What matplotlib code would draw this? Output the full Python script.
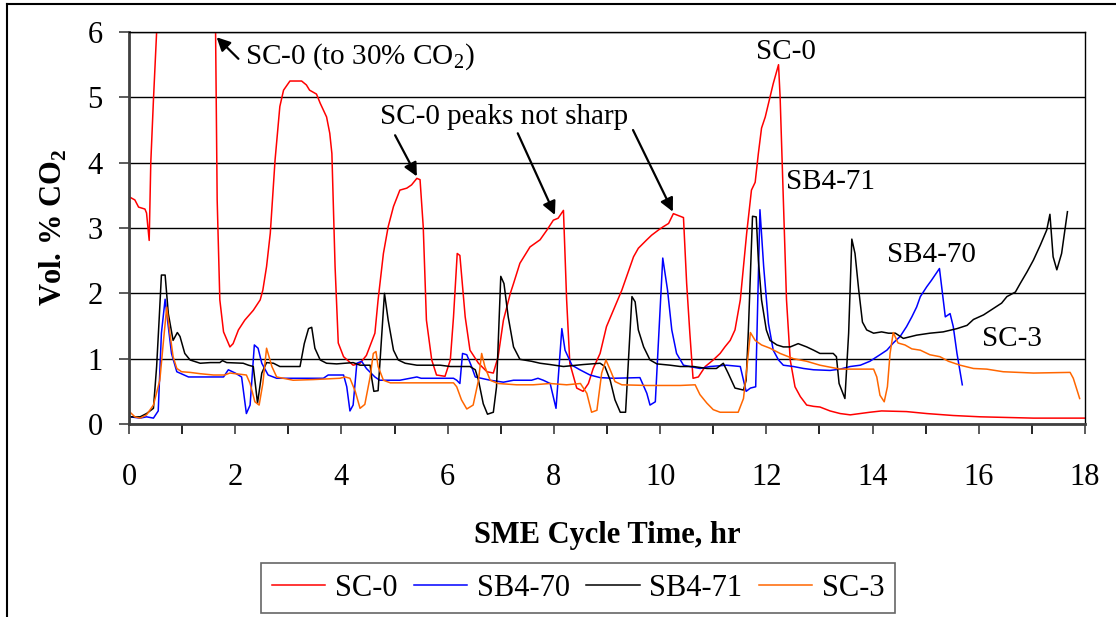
import matplotlib
matplotlib.use("Agg")
import matplotlib.pyplot as plt
from matplotlib.lines import Line2D

plt.rcParams['font.family'] = ['Liberation Serif', 'DejaVu Serif']
plt.rcParams['mathtext.fontset'] = 'custom'
plt.rcParams['mathtext.rm'] = 'Liberation Serif'

# SC-0 (red) - runs off the top to ~30 % between 0.5 and 1.6 hr
sc0_t = [0.02, 0.11, 0.18, 0.30, 0.33, 0.38, 0.41, 0.46, 0.52, 0.55, 1.58, 1.63,
         1.66, 1.71, 1.78, 1.90, 1.96, 2.06, 2.18, 2.34, 2.47, 2.52, 2.59, 2.66,
         2.75, 2.84, 2.91, 3.03, 3.25, 3.34, 3.40, 3.53, 3.60, 3.72, 3.78, 3.82,
         3.88, 3.94, 4.04, 4.22, 4.35, 4.47, 4.63, 4.69, 4.79, 4.88, 4.98, 5.10,
         5.23, 5.32, 5.42, 5.48, 5.54, 5.60, 5.70, 5.79, 5.95, 6.05, 6.11, 6.18,
         6.23, 6.33, 6.42, 6.58, 6.74, 6.86, 6.95, 7.05, 7.18, 7.24, 7.36, 7.55,
         7.74, 7.87, 7.99, 8.08, 8.18, 8.24, 8.30, 8.43, 8.55, 8.65, 8.74, 8.87,
         8.99, 9.12, 9.28, 9.37, 9.50, 9.59, 9.75, 9.84, 9.97, 10.06, 10.16, 10.25,
         10.44, 10.50, 10.56, 10.62, 10.72, 10.85, 11.00, 11.13, 11.22, 11.32,
         11.41, 11.51, 11.57, 11.63, 11.72, 11.79, 11.85, 11.91, 11.98, 12.07,
         12.13, 12.23, 12.26, 12.32, 12.38, 12.45, 12.54, 12.64, 12.76, 12.89,
         13.01, 13.20, 13.39, 13.58, 13.95, 14.17, 14.64, 15.02, 15.52, 16.03,
         17.03, 18.0]
sc0_v = [3.47, 3.43, 3.32, 3.29, 3.23, 2.81, 4.00, 4.96, 6.00, 30.0, 30.0, 6.0,
         3.43, 1.90, 1.41, 1.18, 1.23, 1.44, 1.59, 1.74, 1.90, 2.05, 2.41, 2.92,
         4.04, 4.86, 5.11, 5.25, 5.25, 5.19, 5.11, 5.05, 4.91, 4.70, 4.45, 4.14,
         2.41, 1.24, 1.03, 0.90, 0.93, 1.05, 1.39, 1.90, 2.61, 3.02, 3.33, 3.58,
         3.61, 3.66, 3.76, 3.74, 3.02, 1.59, 0.98, 0.75, 0.73, 0.98, 1.64, 2.61,
         2.58, 1.64, 1.13, 0.93, 0.80, 0.78, 1.03, 1.59, 2.00, 2.15, 2.46, 2.71,
         2.82, 2.97, 3.12, 3.15, 3.27, 1.90, 0.93, 0.55, 0.50, 0.62, 0.85, 1.08,
         1.49, 1.74, 2.05, 2.26, 2.56, 2.69, 2.82, 2.89, 2.97, 3.02, 3.07, 3.22,
         3.16, 2.15, 1.39, 0.70, 0.72, 0.88, 0.98, 1.08, 1.18, 1.28,
         1.44, 1.90, 2.41, 2.92, 3.58, 3.70, 4.14, 4.53, 4.70, 5.01,
         5.21, 5.50, 5.00, 3.43, 1.90, 0.98, 0.57, 0.42, 0.29, 0.27,
         0.26, 0.20, 0.16, 0.14, 0.18, 0.20, 0.19, 0.16, 0.13, 0.11,
         0.09, 0.09]

# SB4-70 (blue)
sb70_t = [0.02, 0.21, 0.33, 0.46, 0.55, 0.61, 0.68, 0.74, 0.80, 0.90, 1.12, 1.78,
          1.87, 2.00, 2.12, 2.21, 2.28, 2.36, 2.43, 2.50, 2.62, 2.78, 3.66, 3.75,
          4.04, 4.10, 4.16, 4.22, 4.29, 4.38, 4.47, 4.63, 4.72, 5.10, 5.42, 5.50,
          6.11, 6.17, 6.23, 6.28, 6.36, 6.45, 6.52, 6.80, 7.05, 7.24, 7.58, 7.70,
          7.80, 7.93, 8.04, 8.15, 8.21, 8.34, 8.49, 8.68, 8.87, 9.12, 9.62, 9.75,
          9.81, 9.91, 10.05, 10.14, 10.22, 10.31, 10.44, 10.56, 10.75, 10.94, 11.25,
          11.51, 11.57, 11.62, 11.70, 11.80, 11.88, 11.95, 12.04, 12.13, 12.23,
          12.32, 12.51, 12.70, 12.89, 13.20, 13.39, 13.58, 13.77, 13.95, 14.14,
          14.27, 14.39, 14.52, 14.64, 14.74, 14.83, 14.90, 15.02, 15.11, 15.26,
          15.37, 15.46, 15.52, 15.59, 15.69]
sb70_v = [0.11, 0.09, 0.11, 0.09, 0.20, 1.39, 1.91, 1.49, 1.08, 0.80, 0.72, 0.72,
          0.83, 0.78, 0.72, 0.16, 0.29, 1.21, 1.16, 0.93, 0.75, 0.70, 0.70, 0.75,
          0.75, 0.57, 0.20, 0.29, 0.93, 0.96, 0.85, 0.72, 0.67, 0.67, 0.72, 0.70,
          0.70, 0.67, 0.62, 1.08, 1.06, 0.88, 0.72, 0.67, 0.64, 0.67, 0.67, 0.70,
          0.67, 0.62, 0.24, 1.46, 1.13, 0.90, 0.83, 0.75, 0.71, 0.70, 0.71, 0.47,
          0.29, 0.34, 2.54, 2.05, 1.44, 1.08, 0.90, 0.88, 0.85, 0.88, 0.90,
          0.88, 0.67, 0.50, 0.55, 0.57, 3.28, 2.41, 1.54, 1.13, 0.98,
          0.90, 0.88, 0.85, 0.83, 0.82, 0.84, 0.88, 0.90, 0.96, 1.06,
          1.13, 1.24, 1.34, 1.49, 1.64, 1.79, 1.95, 2.10, 2.20, 2.38,
          1.64, 1.69, 1.49, 1.08, 0.60]

# SB4-71 (black)
sb71_t = [0.02, 0.21, 0.33, 0.46, 0.52, 0.57, 0.61, 0.68, 0.74, 0.83, 0.91, 0.96,
          1.05, 1.15, 1.34, 1.53, 1.71, 1.76, 1.84, 2.15, 2.25, 2.34, 2.42, 2.50,
          2.59, 2.72, 2.84, 3.22, 3.30, 3.38, 3.44, 3.50, 3.60, 3.72, 3.91, 4.22,
          4.35, 4.54, 4.57, 4.61, 4.69, 4.81, 4.88, 4.98, 5.07, 5.20, 5.42, 5.86,
          6.05, 6.42, 6.52, 6.58, 6.67, 6.75, 6.86, 6.92, 7.00, 7.06, 7.14, 7.24,
          7.36, 7.58, 7.74, 7.93, 8.18, 8.55, 8.87, 8.96, 9.06, 9.15, 9.25, 9.35,
          9.47, 9.53, 9.59, 9.69, 9.81, 9.94, 10.19, 10.38, 10.63, 10.88, 11.06,
          11.19, 11.28, 11.41, 11.57, 11.62, 11.66, 11.74, 11.81, 11.85, 11.91,
          12.00, 12.07, 12.20, 12.32, 12.45, 12.60, 12.76, 12.89, 13.01, 13.26,
          13.32, 13.37, 13.48, 13.55, 13.61, 13.67, 13.74, 13.81, 13.89, 14.02,
          14.17, 14.30, 14.43, 14.58, 14.83, 15.08, 15.33, 15.59, 15.78, 15.90,
          16.09, 16.28, 16.43, 16.53, 16.69, 16.78, 16.91, 17.03, 17.16, 17.28,
          17.34, 17.40, 17.47, 17.56, 17.67]
sb71_v = [0.11, 0.11, 0.16, 0.24, 0.88, 1.64, 2.28, 2.28, 1.69, 1.28, 1.40, 1.34,
          1.08, 0.98, 0.93, 0.94, 0.94, 0.97, 0.94, 0.93, 0.90, 0.88, 0.32, 0.78,
          0.94, 0.93, 0.88, 0.88, 1.23, 1.46, 1.48, 1.16, 0.98, 0.93, 0.92, 0.94,
          0.90, 0.90, 0.70, 0.50, 0.51, 2.00, 1.59, 1.13, 0.98, 0.93, 0.90, 0.90,
          0.88, 0.88, 0.83, 0.67, 0.31, 0.15, 0.18, 0.57, 2.26, 2.15, 1.64, 1.18,
          0.99, 0.96, 0.93, 0.91, 0.88, 0.91, 0.93, 0.88, 0.67, 0.37, 0.18, 0.18,
          1.95, 1.87, 1.44, 1.18, 0.98, 0.92, 0.90, 0.88, 0.88, 0.85, 0.85,
          0.93, 0.78, 0.55, 0.52, 0.67, 1.39, 3.18, 3.17, 2.51, 1.90,
          1.44, 1.28, 1.21, 1.18, 1.18, 1.23, 1.18, 1.13, 1.08, 1.08,
          1.03, 0.62, 0.39, 1.39, 2.83, 2.61, 2.05, 1.56, 1.44, 1.39,
          1.41, 1.39, 1.39, 1.31, 1.36, 1.39, 1.41, 1.46, 1.51, 1.60,
          1.67, 1.77, 1.85, 1.95, 2.02, 2.15, 2.33, 2.51, 2.74, 2.97,
          3.21, 2.56, 2.36, 2.61, 3.25]

# SC-3 (orange)
sc3_t = [0.02, 0.11, 0.21, 0.33, 0.46, 0.58, 0.65, 0.71, 0.77, 0.83, 0.90, 0.99,
         1.15, 1.34, 1.59, 1.80, 1.90, 2.21, 2.28, 2.37, 2.45, 2.52, 2.59, 2.69,
         2.78, 3.09, 3.47, 3.97, 4.07, 4.16, 4.26, 4.35, 4.44, 4.54, 4.60, 4.65,
         4.69, 4.79, 4.92, 5.42, 6.11, 6.17, 6.26, 6.36, 6.48, 6.58, 6.64, 6.70,
         6.80, 6.95, 7.30, 7.61, 7.93, 8.24, 8.50, 8.62, 8.71, 8.81, 8.90, 8.98,
         9.06, 9.15, 9.28, 9.75, 10.38, 10.66, 10.75, 10.88, 11.00, 11.13, 11.47,
         11.57, 11.63, 11.70, 11.79, 11.91, 12.07, 12.26, 12.51, 12.76, 13.01,
         13.39, 14.02, 14.08, 14.14, 14.22, 14.28, 14.33, 14.39, 14.48, 14.61,
         14.74, 14.90, 15.08, 15.27, 15.43, 15.65, 15.90, 16.15, 16.46, 17.03,
         17.72, 17.78, 17.85, 17.90]
sc3_v = [0.18, 0.11, 0.09, 0.14, 0.29, 0.67, 1.28, 1.79, 1.39, 1.03, 0.85, 0.80,
         0.79, 0.77, 0.75, 0.75, 0.78, 0.75, 0.62, 0.34, 0.29, 0.62, 1.16, 0.88,
         0.72, 0.67, 0.68, 0.70, 0.72, 0.70, 0.50, 0.24, 0.30, 0.72, 1.08, 1.11,
         0.88, 0.67, 0.63, 0.63, 0.63, 0.57, 0.37, 0.23, 0.29, 0.67, 1.08, 0.88,
         0.67, 0.62, 0.60, 0.60, 0.62, 0.60, 0.62, 0.47, 0.18, 0.21, 0.78, 0.98,
         0.83, 0.65, 0.60, 0.59, 0.59, 0.60, 0.45, 0.32, 0.22, 0.18, 0.18,
         0.39, 0.83, 1.40, 1.28, 1.21, 1.16, 1.08, 1.00, 0.96, 0.90,
         0.84, 0.84, 0.72, 0.44, 0.34, 0.57, 1.08, 1.40, 1.24, 1.21,
         1.15, 1.13, 1.06, 1.03, 0.96, 0.90, 0.85, 0.84, 0.80, 0.78,
         0.79, 0.70, 0.52, 0.39]

series_names = ['SC-0', 'SB4-70', 'SB4-71', 'SC-3']
series_colors = ['#ff0000', '#0000ff', '#000000', '#ff6600']

fig = plt.figure(figsize=(11.16, 6.17), dpi=100)
ax = fig.add_axes([0.1156, 0.3128, 0.8566, 0.6353])

data = [(sc0_t, sc0_v), (sb70_t, sb70_v), (sb71_t, sb71_v), (sc3_t, sc3_v)]
for (t, v), name, col in zip(data, series_names, series_colors):
    ax.plot(t, v, color=col, lw=1.1, label=name)

ax.set_xlim(0, 18)
ax.set_ylim(0, 6)
ax.set_xticks(range(0, 19, 2))
ax.set_xticks(range(0, 19, 1), minor=True)
ax.set_yticks(range(0, 7))
ax.yaxis.grid(True, color='black', lw=1.0)
ax.set_axisbelow(True)
ax.tick_params(axis='both', labelsize=22, colors='#404040', labelcolor='black')
ax.tick_params(axis='x', which='both', direction='out', length=7, width=1.2, pad=21)
ax.tick_params(axis='y', direction='out', length=7, width=1.2, pad=12)
for s in ['left', 'bottom']:
    ax.spines[s].set_color('#404040')
    ax.spines[s].set_linewidth(2)
for s in ['top', 'right']:
    ax.spines[s].set_color('black')
    ax.spines[s].set_linewidth(1)

ax.set_xlabel('SME Cycle Time, hr', fontsize=22, fontweight='bold', labelpad=21)
ax.set_ylabel(r'Vol. % CO$_\mathregular{2}$', fontsize=22, fontweight='bold', labelpad=13)

# annotations
arrow = dict(arrowstyle='-|>', color='black', lw=1.6, mutation_scale=20, shrinkA=0, shrinkB=0)
ax.annotate('', xy=(1.65, 5.92), xytext=(2.06, 5.59), arrowprops=arrow, annotation_clip=False)
ax.text(2.18, 5.62, r'SC-0 (to 30% CO$_\mathregular{2}$)', fontsize=21, va='center', ha='left')
ax.text(4.73, 4.70, 'SC-0 peaks not sharp', fontsize=21, va='center', ha='left')
ax.annotate('', xy=(5.42, 3.79), xytext=(5.01, 4.42), arrowprops=arrow)
ax.annotate('', xy=(8.02, 3.20), xytext=(7.32, 4.45), arrowprops=arrow)
ax.annotate('', xy=(10.24, 3.25), xytext=(9.49, 4.50), arrowprops=arrow)
ax.text(12.37, 5.69, 'SC-0', fontsize=21, va='center', ha='center')
ax.text(12.37, 3.70, 'SB4-71', fontsize=21, va='center', ha='left')
ax.text(15.10, 2.59, 'SB4-70', fontsize=21, va='center', ha='center')
ax.text(16.63, 1.30, 'SC-3', fontsize=21, va='center', ha='center')

leg = fig.legend(loc='center', bbox_to_anchor=(0.518, 0.047), ncol=4, fontsize=22,
                 frameon=True, fancybox=False, handlelength=1.75, handletextpad=0.3,
                 columnspacing=0.55, borderpad=0.35, borderaxespad=0)
leg.get_frame().set_edgecolor('#404040')
leg.get_frame().set_linewidth(1.2)

# outer chart frame
fig.add_artist(Line2D([7 / 1116, 1.0], [1 - 3.5 / 617, 1 - 3.5 / 617], color='black', lw=1.5))
fig.add_artist(Line2D([7 / 1116, 7 / 1116], [0.0, 1 - 3.5 / 617], color='black', lw=1.5))

fig.savefig('out.png', dpi=100)
